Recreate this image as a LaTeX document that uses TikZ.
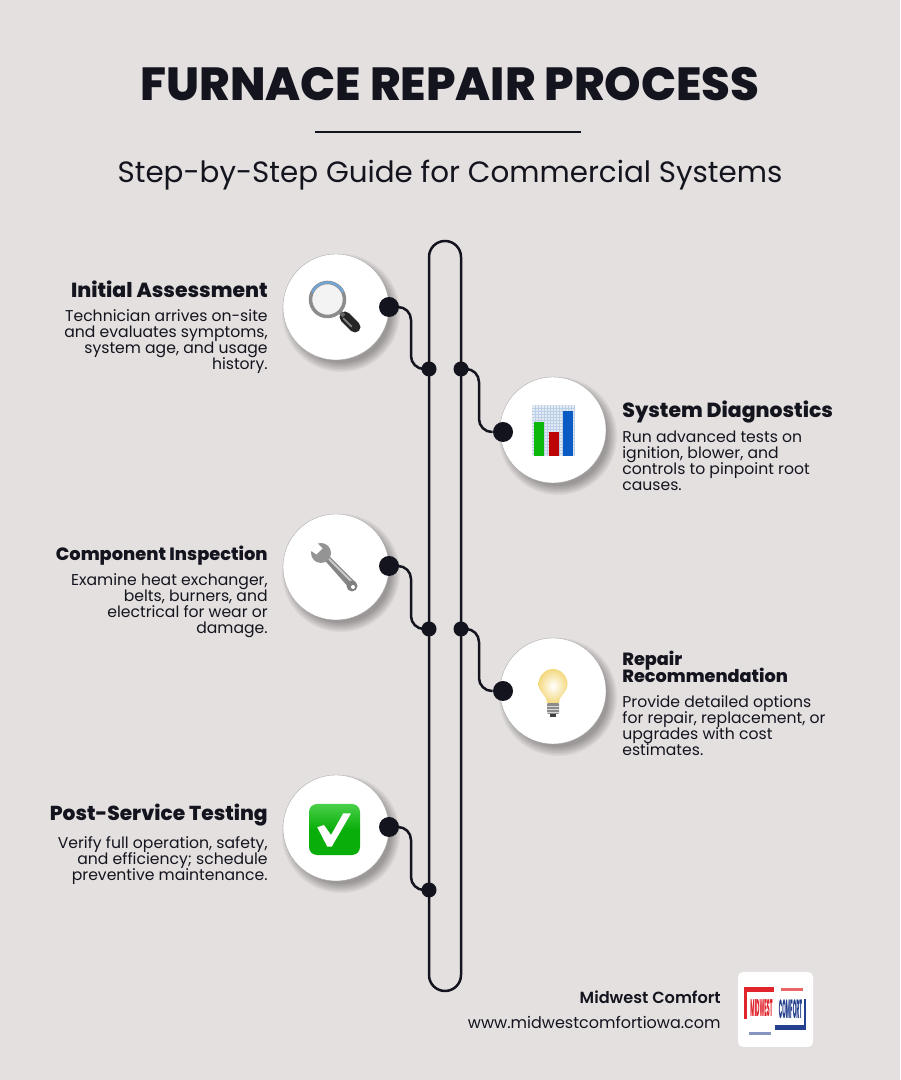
\documentclass[tikz,border=0pt]{standalone}
\usepackage{fontspec}
\setmainfont{Poppins}
\newfontfamily\headfont{Poppins ExtraBold}
\newfontfamily\semifont{Poppins SemiBold}
\usetikzlibrary{positioning}

\definecolor{paper}{HTML}{E4E0DF}
\definecolor{ink}{HTML}{14141F}
\definecolor{logored}{HTML}{E0242C}
\definecolor{logoblue}{HTML}{24408E}
\definecolor{glass}{HTML}{F3F3F3}
\definecolor{rim}{HTML}{6FA8DC}
\definecolor{panel}{HTML}{E3EAF2}
\definecolor{gridline}{HTML}{BBD0E8}
\definecolor{bargreen}{HTML}{0DB80D}
\definecolor{barred}{HTML}{BE0505}
\definecolor{barblue}{HTML}{0A5CC4}
\definecolor{glow}{HTML}{F4D981}
\definecolor{tick}{HTML}{0AAE0A}
\definecolor{ticktop}{HTML}{4AD04A}

\newcommand{\tightlines}{\lineskiplimit=-5pt\relax}

\tikzset{
  spine/.style={draw=ink, line width=0.05cm, rounded corners=0.32cm, minimum width=0.64cm, minimum height=15cm, inner sep=0},
  link/.style={draw=ink, line width=0.05cm, rounded corners=0.26cm},
  hub/.style={circle, fill=ink, minimum size=0.3cm, inner sep=0},
  bigdot/.style={circle, fill=ink, minimum size=0.4cm, inner sep=0},
  disc/.style={circle, fill=white, draw=black!35, line width=0.2pt, minimum size=2.12cm, inner sep=0},
  headleft/.style={anchor=east, inner sep=0, text=ink, font=\headfont\fontsize{#1}{9.7}\selectfont},
  headright/.style={anchor=west, align=left, inner sep=0, text=ink, font=\headfont\fontsize{#1}{9.7}\selectfont\tightlines},
  bodyleft/.style={anchor=north east, align=right, inner sep=0, text=ink, font=\fontsize{8.9}{9.1}\selectfont\tightlines},
  bodyright/.style={anchor=north west, align=left, inner sep=0, text=ink, font=\fontsize{8.9}{9.1}\selectfont\tightlines},
}

\begin{document}
\begin{tikzpicture}
\useasboundingbox (0,0) rectangle (18,21.6);
\fill[paper] (0,0) rectangle (18,21.6);

\node[text=ink, inner sep=0, font=\headfont\fontsize{26.4}{30}\selectfont](Title) at (9,19.92) {FURNACE REPAIR PROCESS};
\coordinate(R1) at (6.3,18.96);
\coordinate(R2) at (11.62,18.96);
\draw[ink, line width=0.05cm] (R1) -- (R2);
\node[text=ink, inner sep=0, font=\fontsize{16.7}{22}\selectfont](Sub) at (9,18.1) {Step-by-Step Guide for Commercial Systems};

\node[spine](Spine) at (8.9,9.28) {};

% soft shadows under the discs
\foreach \cx/\cy in {6.72/15.46, 11.06/13, 6.72/10.26, 11.06/7.78, 6.72/5.04}
  \foreach \r in {1.0,1.03,...,1.18}
    \fill[black, opacity=0.05] (\cx+0.1,\cy-0.12) circle (\r);

\node[disc](C1) at (6.72,15.46) {};
\node[disc](C2) at (11.06,13) {};
\node[disc](C3) at (6.72,10.26) {};
\node[disc](C4) at (11.06,7.78) {};
\node[disc](C5) at (6.72,5.04) {};

\node[bigdot](D1) at (7.78,15.46) {};
\node[bigdot](D2) at (10.06,12.96) {};
\node[bigdot](D3) at (7.78,10.28) {};
\node[bigdot](D4) at (10.06,7.78) {};
\node[bigdot](D5) at (7.78,5.06) {};

\node[hub](H1) at (8.58,14.22) {};
\node[hub](H2) at (9.22,14.22) {};
\node[hub](H3) at (8.58,9.02) {};
\node[hub](H4) at (9.22,9.02) {};
\node[hub](H5) at (8.58,3.8) {};

\coordinate(J1) at (8.22,14.8);
\coordinate(J2) at (9.58,13.6);
\coordinate(J3) at (8.22,9.6);
\coordinate(J4) at (9.58,8.4);
\coordinate(J5) at (8.22,4.4);

\draw[link] (D1) -| (J1) |- (H1);
\draw[link] (H2) -| (J2) |- (D2);
\draw[link] (D3) -| (J3) |- (H3);
\draw[link] (H4) -| (J4) |- (D4);
\draw[link] (D5) -| (J5) |- (H5);

% magnifier
\begin{scope}[shift={(C1)}, x=0.02cm, y=-0.02cm]
\draw[black!85, line width=0.22cm, line cap=round] (9,10) -- (19,20);
\draw[black!45, line width=0.03cm, line cap=round] (7.5,11.5) -- (15.5,19.5);
\draw[black!60, line width=0.08cm] (3,4) -- (8,9);
\draw[fill=glass, draw=black!45, line width=0.07cm] (-8.5,-7.5) circle (17);
\draw[rim, line width=0.04cm] (-23.9,-14.7) arc (205:335:17);
\end{scope}

% bar chart
\begin{scope}[shift={(C2)}, x=0.02cm, y=-0.02cm]
\fill[panel] (-21,-25) rectangle (22,26);
\foreach \g in {-18,-15,...,21} \draw[gridline, line width=0.1pt] (\g,-25) -- (\g,26);
\foreach \g in {-22,-19,...,25} \draw[gridline, line width=0.1pt] (-21,\g) -- (22,\g);
\fill[bargreen] (-19,-8) rectangle (-9,26);
\fill[barred] (-4,2) rectangle (6,26);
\fill[barblue] (10,-19) rectangle (20,26);
\end{scope}

% wrench
\begin{scope}[shift={(C3)}, x=0.02cm, y=-0.02cm]
\fill[black!48] (-12,-7.5) -- (-7.5,-11.5) -- (20,16) -- (14,22) -- cycle;
\draw[black!20, line width=0.04cm] (-9,-10) -- (16,15);
\fill[black!42] (-15,-14) circle (10);
\fill[white] (-26,-17) -- (-19,-24) -- (-13.5,-18.5) -- (-19.5,-12.5) -- cycle;
\fill[black!50] (16,19) circle (5.5);
\fill[white] (17,20) circle (2);
\end{scope}

% light bulb
\begin{scope}[shift={(C4)}, x=0.02cm, y=-0.02cm]
\fill[black!45, rounded corners=0.02cm] (-6,12) rectangle (6,23);
\foreach \g in {15,18,21} \draw[black!15, line width=0.3pt] (-6,\g) -- (6,\g);
\fill[black!75] (-3,23) rectangle (3,26);
\shade[inner color=white, outer color=glow] (-6,12) .. controls (-6,4) and (-14.5,2) .. (-14.5,-7) .. controls (-14.5,-15) and (-8,-22) .. (0,-22) .. controls (8,-22) and (14.5,-15) .. (14.5,-7) .. controls (14.5,2) and (6,4) .. (6,12) -- cycle;
\end{scope}

% check box
\begin{scope}[shift={(C5)}, x=0.02cm, y=-0.02cm]
\shade[top color=ticktop, bottom color=tick, middle color=tick, rounded corners=0.16cm] (-27,-24) rectangle (24,27);
\fill[white] (-18.7,-0.7) -- (-12,-3) -- (-5,7) -- (7.3,-14.7) -- (15,-14.7) -- (-4.3,18.7) -- (-8.7,18.7) -- cycle;
\end{scope}

\node[headleft=11.6](T1) at (5.36,15.82) {Initial Assessment};
\node[bodyleft](B1) at (5.36,15.42) {Technician arrives on-site\\and evaluates symptoms,\\system age, and usage\\history.};

\node[headright=11.6](T2) at (12.44,13.36) {System Diagnostics};
\node[bodyright](B2) at (12.44,12.98) {Run advanced tests on\\ignition, blower, and\\controls to pinpoint root\\causes.};

\node[headleft=10.13](T3) at (5.36,10.48) {Component Inspection};
\node[bodyleft](B3) at (5.36,10.14) {Examine heat exchanger,\\belts, burners, and\\electrical for wear or\\damage.};

\node[headright=10.06](T4) at (12.44,8.27) {Repair\\Recommendation};
\node[bodyright](B4) at (12.44,7.7) {Provide detailed options\\for repair, replacement, or\\upgrades with cost\\estimates.};

\node[headleft=11.5](T5) at (5.36,5.3) {Post-Service Testing};
\node[bodyleft](B5) at (5.36,4.88) {Verify full operation, safety,\\and efficiency; schedule\\preventive maintenance.};

\node[anchor=east, inner sep=0, text=ink, font=\semifont\fontsize{9.2}{11}\selectfont](F1) at (14.42,1.66) {Midwest Comfort};
\node[anchor=east, inner sep=0, text=ink, font=\fontsize{9.1}{11}\selectfont](F2) at (14.42,1.16) {www.midwestcomfortiowa.com};

% logo
\node[fill=white, rounded corners=0.1cm, minimum size=1.5cm, inner sep=0](Logo) at (15.51,1.41) {};
\begin{scope}[shift={(Logo)}, x=0.02cm, y=-0.02cm]
\fill[logored] (-32,-22) rectangle (-2,-17);
\fill[logored] (-32,-22) rectangle (-29,9);
\fill[logored!70] (5,-21) rectangle (27,-18);
\node[inner sep=0, text=logored, xscale=0.2, yscale=1.05, font=\headfont\fontsize{13}{13}\selectfont](LogoA) at (-14,-2) {MIDWEST};
\node[inner sep=0, text=logoblue, xscale=0.2, yscale=1.15, font=\headfont\fontsize{13}{13}\selectfont](LogoB) at (15,0) {COMFORT};
\fill[logoblue] (-0.5,15.5) rectangle (30.5,20.5);
\fill[logoblue] (28,-10) rectangle (30.5,20.5);
\fill[logoblue!55] (-27,22) rectangle (-5,25);
\end{scope}
\end{tikzpicture}
\end{document}
